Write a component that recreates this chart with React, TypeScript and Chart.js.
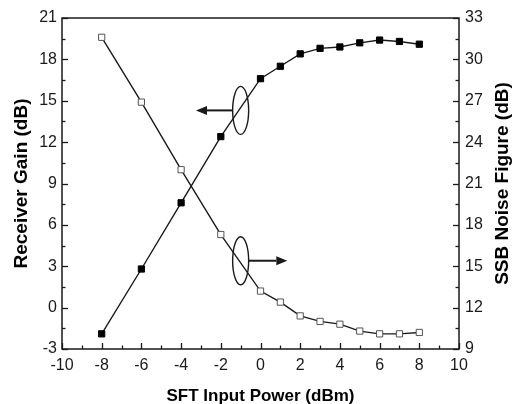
import { useEffect, useRef } from "react";
import { Chart, registerables } from "chart.js";

Chart.register(...registerables);

const inputPower = [-8, -6, -4, -2, 0, 1, 2, 3, 4, 5, 6, 7, 8];
const receiverGain = [-1.9, 2.8, 7.6, 12.4, 16.6, 17.5, 18.4, 18.8, 18.9, 19.2, 19.4, 19.3, 19.1];
const noiseFigure = [31.6, 26.9, 22.0, 17.3, 13.2, 12.4, 11.4, 11.0, 10.8, 10.3, 10.1, 10.1, 10.2];

const xRange = [-10, 10];
const gainRange = [-3, 21];
const nfRange = [9, 33];

const rightTitle = "SSB Noise Figure (dB)";

// annotation anchors (data coordinates)
const gainMarker = { x: -1, y: 14.3, arrowTo: -3.25 };
const nfMarker = { x: -1, y: 15.4, arrowTo: 1.35 };

const FONT = "'Liberation Sans', Arial, sans-serif";
const INK = "#1a1a1a";

const decorPlugin = {
  id: "decor",
  afterDatasetsDraw(chart: any) {
    const { ctx, chartArea: a, scales } = chart;
    const sx = scales.x;
    const sy = scales.y;
    const sy1 = scales.y1;
    ctx.save();
    ctx.strokeStyle = INK;
    ctx.lineWidth = 1.5;
    ctx.strokeRect(a.left, a.top, a.right - a.left, a.bottom - a.top);

    const seg = (x1: number, y1: number, x2: number, y2: number) => {
      ctx.beginPath();
      ctx.moveTo(x1, y1);
      ctx.lineTo(x2, y2);
      ctx.stroke();
    };
    ctx.lineWidth = 1.3;
    for (let v = xRange[0]; v <= xRange[1]; v += 1) {
      const px = Math.round(sx.getPixelForValue(v)) + 0.5;
      const len = v % 2 === 0 ? 6 : 3.5;
      seg(px, a.bottom, px, a.bottom - len);
    }
    for (let i = 0; i <= 16; i++) {
      const v = gainRange[0] + i * 1.5;
      const py = Math.round(sy.getPixelForValue(v)) + 0.5;
      const len = i % 2 === 0 ? 6 : 3.5;
      seg(a.left, py, a.left + len, py);
    }
    for (let i = 0; i <= 16; i++) {
      const v = nfRange[0] + i * 1.5;
      const py = Math.round(sy1.getPixelForValue(v)) + 0.5;
      const len = i % 2 === 0 ? 6 : 3.5;
      seg(a.right, py, a.right - len, py);
    }

    const drawMarker = (cx: number, cy: number, tipX: number) => {
      const rx = 8;
      const ry = 24;
      ctx.lineWidth = 1.4;
      ctx.strokeStyle = INK;
      ctx.beginPath();
      ctx.ellipse(cx, cy, rx, ry, 0, 0, Math.PI * 2);
      ctx.stroke();
      const dir = tipX < cx ? -1 : 1;
      const startX = cx + dir * rx;
      const headLen = 11;
      ctx.lineWidth = 2;
      seg(startX, cy, tipX - dir * headLen, cy);
      ctx.fillStyle = INK;
      ctx.beginPath();
      ctx.moveTo(tipX, cy);
      ctx.lineTo(tipX - dir * headLen, cy - 4.5);
      ctx.lineTo(tipX - dir * headLen, cy + 4.5);
      ctx.closePath();
      ctx.fill();
    };
    drawMarker(
      sx.getPixelForValue(gainMarker.x),
      sy.getPixelForValue(gainMarker.y),
      sx.getPixelForValue(gainMarker.arrowTo)
    );
    drawMarker(
      sx.getPixelForValue(nfMarker.x),
      sy1.getPixelForValue(nfMarker.y),
      sx.getPixelForValue(nfMarker.arrowTo)
    );

    // right axis title, reading bottom-to-top like the left one
    ctx.save();
    ctx.translate(sy1.right - 12, (a.top + a.bottom) / 2);
    ctx.rotate(-Math.PI / 2);
    ctx.font = `bold 19px ${FONT}`;
    ctx.fillStyle = "#000";
    ctx.textAlign = "center";
    ctx.textBaseline = "middle";
    ctx.fillText(rightTitle, 0, 0);
    ctx.restore();

    ctx.restore();
  },
};

export default function App() {
  const ref = useRef<HTMLCanvasElement | null>(null);

  useEffect(() => {
    if (!ref.current) return;
    const tickFont = { family: FONT, size: 16 };
    const chart = new Chart(ref.current, {
      type: "line",
      data: {
        datasets: [
          {
            label: "Receiver Gain",
            data: inputPower.map((x, i) => ({ x, y: receiverGain[i] })),
            yAxisID: "y",
            borderColor: INK,
            borderWidth: 1.4,
            pointStyle: "rect",
            pointRadius: 4.4,
            pointBackgroundColor: "#000",
            pointBorderColor: "#000",
            pointBorderWidth: 1,
            tension: 0,
          },
          {
            label: "SSB Noise Figure",
            data: inputPower.map((x, i) => ({ x, y: noiseFigure[i] })),
            yAxisID: "y1",
            borderColor: INK,
            borderWidth: 1.4,
            pointStyle: "rect",
            pointRadius: 4.4,
            pointBackgroundColor: "#fff",
            pointBorderColor: "#555",
            pointBorderWidth: 1,
            tension: 0,
          },
        ],
      },
      options: {
        animation: false,
        responsive: false,
        devicePixelRatio: 1,
        layout: { padding: { top: 18, left: 0, right: 0, bottom: 0 } },
        plugins: { legend: { display: false }, tooltip: { enabled: false } },
        scales: {
          x: {
            type: "linear",
            min: xRange[0],
            max: xRange[1],
            grid: { display: false, drawTicks: false },
            border: { display: false },
            ticks: { stepSize: 2, color: INK, font: tickFont, padding: 7 },
            title: {
              display: true,
              text: "SFT Input Power (dBm)",
              color: "#000",
              font: { family: FONT, size: 17, weight: "bold" },
              padding: { top: 0, bottom: -3 },
            },
            afterFit: (s: any) => {
              s.height = 55;
            },
          },
          y: {
            type: "linear",
            position: "left",
            min: gainRange[0],
            max: gainRange[1],
            grid: { display: false, drawTicks: false },
            border: { display: false },
            ticks: { stepSize: 3, color: INK, font: tickFont, padding: 5 },
            title: {
              display: true,
              text: "Receiver Gain (dB)",
              color: "#000",
              font: { family: FONT, size: 19, weight: "bold" },
              padding: { top: 10, bottom: 0 },
            },
            afterFit: (s: any) => {
              s.width = 62;
            },
          },
          y1: {
            type: "linear",
            position: "right",
            min: nfRange[0],
            max: nfRange[1],
            grid: { display: false, drawTicks: false },
            border: { display: false },
            ticks: { stepSize: 3, color: INK, font: tickFont, padding: 6 },
            title: { display: false },
            afterFit: (s: any) => {
              s.width = 56;
            },
          },
        },
      },
      plugins: [decorPlugin],
    } as any);
    return () => chart.destroy();
  }, []);

  return (
    <div style={{ position: "fixed", left: 0, top: 0, width: 515, height: 404, background: "#fff" }}>
      <canvas ref={ref} width={515} height={404} style={{ width: 515, height: 404, display: "block" }} />
    </div>
  );
}
